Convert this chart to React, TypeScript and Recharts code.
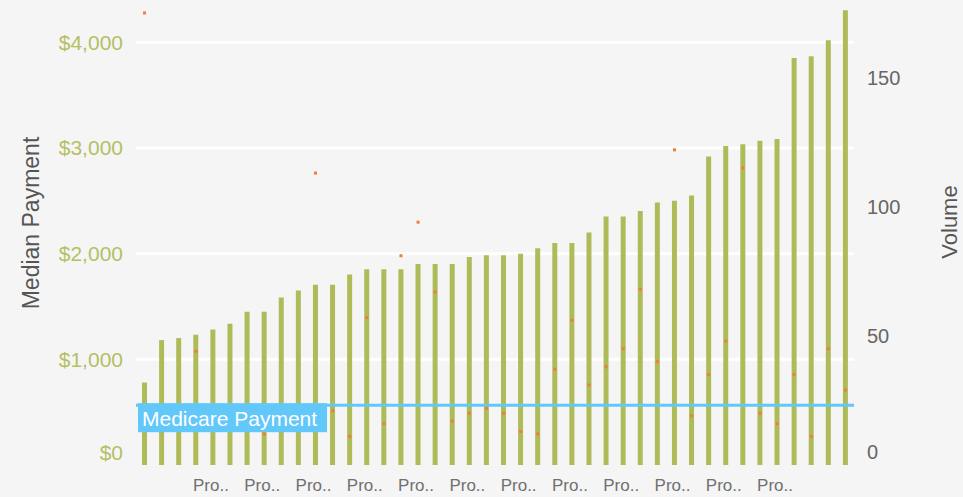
import React from "react";
import {
  ComposedChart,
  Bar,
  Scatter,
  XAxis,
  YAxis,
  CartesianGrid,
  ReferenceLine,
  Label,
} from "recharts";

// procedures, sorted by median payment
const categories = [
  "Procedure 1", "Procedure 2", "Procedure 3", "Procedure 4", "Procedure 5", "Procedure 6",
  "Procedure 7", "Procedure 8", "Procedure 9", "Procedure 10", "Procedure 11", "Procedure 12",
  "Procedure 13", "Procedure 14", "Procedure 15", "Procedure 16", "Procedure 17", "Procedure 18",
  "Procedure 19", "Procedure 20", "Procedure 21", "Procedure 22", "Procedure 23", "Procedure 24",
  "Procedure 25", "Procedure 26", "Procedure 27", "Procedure 28", "Procedure 29", "Procedure 30",
  "Procedure 31", "Procedure 32", "Procedure 33", "Procedure 34", "Procedure 35", "Procedure 36",
  "Procedure 37", "Procedure 38", "Procedure 39", "Procedure 40", "Procedure 41", "Procedure 42",
];

const medianPayment = [
  780, 1182, 1201, 1233, 1283, 1337, 1450, 1450, 1585, 1651, 1705, 1705, 1802, 1852,
  1852, 1852, 1903, 1903, 1903, 1969, 1984, 1984, 2000, 2050, 2101, 2101, 2201, 2352,
  2352, 2403, 2484, 2500, 2550, 2918, 3019, 3035, 3069, 3085, 3852, 3868, 4019, 4302,
];

// null = no visible point
const volume = [
  175, null, null, 44, null, null, null, 12, null, null, 113, 21, 11, 57,
  16, 81, 94, 67, 17, 20, 22, 20, 13, 12, 37, 56, 31, 38,
  45, 68, 40, 122, 19, 35, 48, 115, 20, 16, 35, 11, 45, 29,
];

const medicarePayment = 566;

const paymentTicks = [0, 1000, 2000, 3000, 4000];
const volumeTicks = [0, 50, 100, 150];

const data = categories.map((name, i) => ({
  name,
  payment: medianPayment[i],
  volume: volume[i],
}));

const FONT = '"Liberation Sans", Arial, sans-serif';
const BAR_COLOR = "#afbb58";
const DOT_COLOR = "#ef7d3c";
const LINE_COLOR = "#62c8fa";

function PaymentTick(props: any) {
  const { x, y, payload } = props;
  const shift = payload.value === 0 ? -12 : 0;
  return (
    <text x={x} y={y + shift} dy="0.35em" textAnchor="end" fill="#b5bf63" fontSize={21} fontFamily={FONT}>
      {"$" + Number(payload.value).toLocaleString("en-US")}
    </text>
  );
}

function VolumeTick(props: any) {
  const { x, y, payload } = props;
  const shift = payload.value === 0 ? -13 : 0;
  return (
    <text x={x} y={y + shift} dy="0.35em" textAnchor="start" fill="#666" fontSize={20} fontFamily={FONT}>
      {payload.value}
    </text>
  );
}

// every third label, the ones at the edges were dropped
function ProcTick(props: any) {
  const { x, y, payload, index } = props;
  if (index % 3 !== 1 || index < 4 || index > 37) return null;
  return (
    <text x={x - 2} y={y + 20} dy="0.35em" textAnchor="middle" fill="#707070" fontSize={17} fontFamily={FONT}>
      {String(payload.value).slice(0, 3) + ".."}
    </text>
  );
}

function Dot(props: any) {
  const { cx, cy, payload } = props;
  if (payload == null || payload.volume == null || cy == null || isNaN(cy)) return null;
  return <rect x={cx - 1.5} y={cy - 1.5} width={3} height={3} fill={DOT_COLOR} />;
}

function MedicareLabel(props: any) {
  const { viewBox } = props;
  const x = viewBox?.x ?? 136;
  const y = viewBox?.y ?? 405;
  return (
    <g>
      <rect x={x + 2} y={y - 2} width={189} height={29} fill={LINE_COLOR} />
      <text x={x + 6} y={y + 13} dy="0.35em" fill="#fff" fontSize={21} fontFamily={FONT}>
        Medicare Payment
      </text>
    </g>
  );
}

export default function App() {
  return (
    <div style={{ position: "absolute", left: 0, top: 0, width: 963, height: 497, background: "#f5f5f5" }}>
      <ComposedChart width={963} height={497} data={data} margin={{ top: 0, right: 0, bottom: 0, left: 0 }}>
        <CartesianGrid
          vertical={false}
          stroke="#ffffff"
          strokeWidth={3}
          yAxisId="left"
          horizontalValues={[1000, 2000, 3000, 4000]}
        />
        <XAxis
          dataKey="name"
          interval={0}
          height={32}
          axisLine={false}
          tickLine={false}
          tickSize={0}
          tickMargin={0}
          tick={<ProcTick />}
        />
        <YAxis
          yAxisId="left"
          orientation="left"
          width={136}
          domain={[0, 4400]}
          ticks={paymentTicks}
          axisLine={false}
          tickLine={false}
          tickSize={0}
          tickMargin={13}
          tick={<PaymentTick />}
        >
          <Label
            content={() => (
              <text
                x={31}
                y={223}
                transform="rotate(-90 31 223)"
                textAnchor="middle"
                dominantBaseline="central"
                fill="#555"
                fontSize={23}
                fontFamily={FONT}
              >
                Median Payment
              </text>
            )}
          />
        </YAxis>
        <YAxis
          yAxisId="right"
          orientation="right"
          width={109}
          domain={[0, 180]}
          ticks={volumeTicks}
          axisLine={false}
          tickLine={false}
          tickSize={0}
          tickMargin={13}
          tick={<VolumeTick />}
        >
          <Label
            content={() => (
              <text
                x={949}
                y={222}
                transform="rotate(-90 949 222)"
                textAnchor="middle"
                dominantBaseline="central"
                fill="#555"
                fontSize={22}
                fontFamily={FONT}
              >
                Volume
              </text>
            )}
          />
        </YAxis>
        <Bar yAxisId="left" dataKey="payment" fill={BAR_COLOR} barSize={5} isAnimationActive={false} />
        <Scatter yAxisId="right" dataKey="volume" shape={<Dot />} isAnimationActive={false} />
        <ReferenceLine
          yAxisId="left"
          y={medicarePayment}
          stroke={LINE_COLOR}
          strokeWidth={3}
          label={<MedicareLabel />}
        />
      </ComposedChart>
    </div>
  );
}
